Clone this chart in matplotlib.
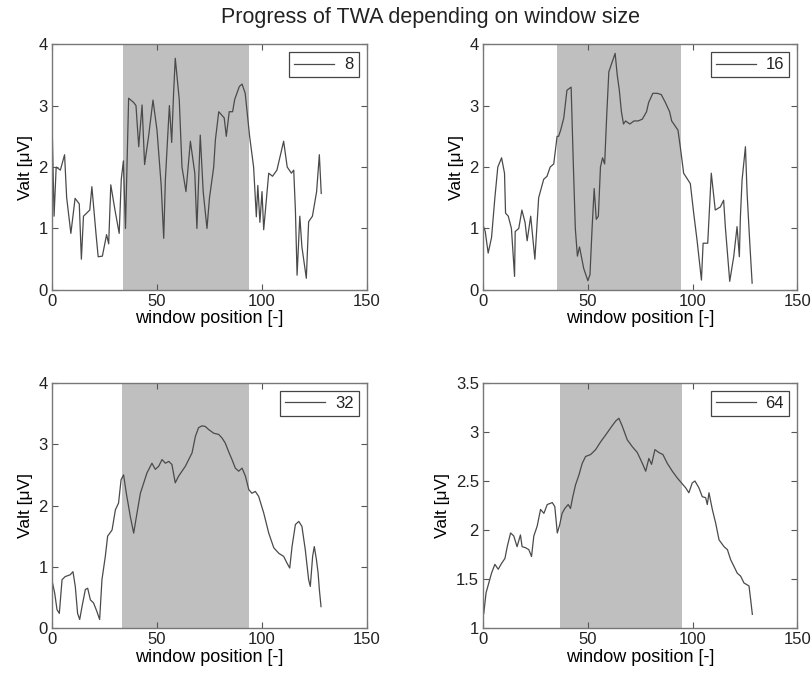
import matplotlib.pyplot as plt

# window size 8
x8 = [0, 1, 2, 4, 6, 7, 9, 11, 13, 14, 15, 18, 19, 21, 22, 24, 26, 27, 28, 30, 32, 33, 34, 35,
      36.5, 38.9, 40, 41.3, 42.9, 44.1, 46, 48.1, 50, 52, 53.2, 54, 55.9, 57, 57.9, 58.7, 60.6,
      61.9, 63.8, 65.9, 68, 69, 70.6, 72, 73.8, 75, 77, 77.8, 79.4, 82, 83, 84.4, 86, 87, 89.2,
      90.5, 92, 94.1, 96, 97.3, 98, 99, 100, 100.8, 103.2, 105, 107.1, 110.3, 112, 114, 115.1,
      115.9, 116.7, 118, 119, 121.1, 122.2, 124, 126, 127.3, 128.2]
y8 = [2.8, 1.2, 2.0, 1.95, 2.2, 1.5, 0.92, 1.49, 1.4, 0.5, 1.2, 1.3, 1.68, 0.9, 0.54, 0.55, 0.9,
      0.75, 1.71, 1.3, 0.92, 1.8, 2.1, 1.0,
      3.12, 3.05, 3.0, 2.33, 3.01, 2.04, 2.5, 3.09, 2.6, 1.7, 0.84, 1.8, 3.0, 2.4, 3.2, 3.77, 3.1,
      2.0, 1.6, 2.42, 1.9, 1.0, 2.52, 1.6, 1.0, 1.5, 2.0, 2.44, 2.9, 2.8, 2.5, 2.9, 2.9, 3.1, 3.31,
      3.35, 3.2, 2.5, 2.0, 1.19, 1.7, 1.1, 1.6, 0.98, 1.9, 1.85, 1.95, 2.42, 2.0, 1.9, 1.95,
      1.3, 0.24, 1.2, 0.7, 0.19, 1.11, 1.2, 1.6, 2.2, 1.57]

# window size 16
x16 = [0, 1, 2.4, 4, 5.6, 7, 8.8, 10.2, 10.7, 12, 13.5, 15, 15.3, 17, 18.5, 20, 21, 22.7, 24.7,
       26.5, 28.9, 30.5, 32, 33.7, 35.3, 36, 37, 38.5, 40, 42, 43,
       44, 45, 46, 48, 50, 51, 52, 53, 54, 55, 56, 57, 58, 59, 60,
       62, 63, 64, 65, 66, 67, 68, 70, 72, 74, 76, 78, 79, 81, 83, 85, 87, 89, 90, 91, 92, 93,
       94.1, 95.7, 98.9, 100.5, 102.1, 104.2, 105, 107.2, 108.9, 110.8, 113.2, 114.8, 115.6,
       117.7, 119.6, 121.2, 122.3, 122.8, 123.6, 125.2, 126, 127.2, 128.4]
y16 = [1.05, 0.95, 0.6, 0.85, 1.5, 2.0, 2.15, 1.9, 1.25, 1.2, 1.0, 0.22, 0.95, 1.0, 1.3, 1.1, 0.8,
       1.2, 0.5, 1.5, 1.8, 1.85, 2.0, 2.05, 2.5, 2.5, 2.6, 2.8, 3.25, 3.3, 2.1,
       1.0, 0.55, 0.7, 0.35, 0.15, 0.25, 1.0, 1.65, 1.15, 1.2, 2.0, 2.15, 2.05, 2.85, 3.55,
       3.75, 3.85, 3.5, 3.25, 2.9, 2.7, 2.75, 2.7, 2.75, 2.75, 2.78, 2.9, 3.05, 3.2, 3.2, 3.18,
       3.05, 2.9, 2.75, 2.7, 2.65, 2.6,
       2.33, 1.9, 1.73, 1.25, 0.81, 0.16, 0.76, 0.76, 1.9, 1.3, 1.35, 1.46, 1.03,
       0.14, 0.54, 1.03, 0.54, 1.19, 1.79, 2.33, 1.57, 0.81, 0.11]

# window size 32
x32 = [0.3, 1.3, 2.4, 3.5, 4.8, 6.3, 8.7, 10, 11.1, 12.2, 13.2, 14.3, 15.9, 17, 18.3, 19.8, 21.4,
       22.7, 23.8, 25.4, 26.5, 28.6, 30.2, 31.7, 32.9, 34.1, 35.4, 37.3, 38.9, 40.5, 42.1, 43.7,
       45.2, 47.6, 49.2, 50.8, 52.4, 54, 55.6, 57.1, 58.7, 60.3, 61.9, 63.5, 65.1, 66.7, 68.3,
       69.8, 71.4, 73, 74.6, 77, 79.4, 81, 82.5, 84.1, 85.7, 87.3, 88.9, 90.5, 92.1, 93.7, 95.2,
       96.8, 98.4, 100.8, 103.2, 105.6, 108, 110.3, 111.9, 113.2, 114.3, 115.9, 117.5, 119,
       120.6, 122.2, 123, 124.1, 124.9, 125.9, 126.7, 127.3, 128.1]
y32 = [0.73, 0.57, 0.3, 0.24, 0.79, 0.84, 0.87, 0.92, 0.68, 0.24, 0.14, 0.35, 0.63, 0.65, 0.46,
       0.41, 0.27, 0.14, 0.79, 1.17, 1.5, 1.6, 1.93, 2.04, 2.42, 2.5, 2.2, 1.82, 1.55, 1.88, 2.2,
       2.37, 2.53, 2.69, 2.59, 2.64, 2.75, 2.69, 2.72, 2.67, 2.37, 2.48, 2.56, 2.64, 2.75, 2.86,
       3.13, 3.27, 3.3, 3.29, 3.24, 3.18, 3.16, 3.1, 3.02, 2.88, 2.75, 2.61, 2.56, 2.61, 2.48,
       2.26, 2.2, 2.23, 2.15, 1.88, 1.55, 1.31, 1.22, 1.17, 1.06, 0.98, 1.33, 1.69, 1.74, 1.66,
       1.28, 0.79, 0.68, 1.17, 1.33, 1.12, 0.9, 0.63, 0.35]

# window size 64
x64 = [0.3, 1.4, 2.7, 4, 5.6, 7.2, 8.8, 10.4, 11.5, 13.1, 14.6, 16.2, 17.8, 18.6, 20.2, 21.8,
       23.1, 24.2, 25.8, 27.4, 29, 30.6, 33, 34.2, 35.4, 36.5, 37.7, 39, 40.6, 41.7, 42.8, 44.1,
       45.7, 47.3, 48.9, 51.3, 53.7, 56.1, 58.5, 60.8, 63.2, 64.8, 66.4, 68.8, 71.2, 73.6, 76,
       77.6, 79.1, 80.4, 82, 83.9, 85.8, 87.9, 90.3, 92.7, 94.7, 96.7, 98.2, 99.8, 101.1, 103,
       104.6, 106.2, 107, 107.8, 109.4, 111, 112.6, 115, 116.6, 118.1, 119.7, 121.3, 122.9,
       124.5, 126.9, 127.7, 128.5]
y64 = [1.15, 1.36, 1.46, 1.56, 1.65, 1.6, 1.66, 1.71, 1.83, 1.97, 1.94, 1.83, 1.95, 1.83, 1.82,
       1.8, 1.73, 1.94, 2.04, 2.21, 2.17, 2.26, 2.28, 2.24, 1.97, 2.05, 2.17, 2.22, 2.26, 2.22,
       2.34, 2.46, 2.56, 2.68, 2.75, 2.77, 2.82, 2.9, 2.97, 3.04, 3.11, 3.14, 3.06, 2.92, 2.85,
       2.79, 2.68, 2.6, 2.73, 2.67, 2.82, 2.79, 2.77, 2.68, 2.6, 2.53, 2.48, 2.43, 2.38, 2.48,
       2.5, 2.43, 2.34, 2.33, 2.26, 2.38, 2.21, 2.07, 1.9, 1.83, 1.8, 1.7, 1.63, 1.56, 1.53,
       1.46, 1.43, 1.29, 1.14]

labels = ['8', '16', '32', '64']
shade_start = [34, 35.4, 33.3, 36.5]
shade_end = [94, 94.3, 93.7, 95]
ylims = [(0, 4), (0, 4), (0, 4), (1, 3.5)]
yticks = [[0, 1, 2, 3, 4], [0, 1, 2, 3, 4], [0, 1, 2, 3, 4], [1, 1.5, 2, 2.5, 3, 3.5]]
xs = [x8, x16, x32, x64]
ys = [y8, y16, y32, y64]

plt.rcParams['font.family'] = ['Liberation Sans', 'DejaVu Sans']
plt.rcParams['text.color'] = '#222222'

fig = plt.figure(figsize=(8.12, 6.79), dpi=100)
pos = [[0.064, 0.573, 0.388, 0.362], [0.595, 0.573, 0.387, 0.362],
       [0.064, 0.075, 0.388, 0.361], [0.595, 0.075, 0.387, 0.361]]

for i in range(4):
    ax = fig.add_axes(pos[i])
    ax.axvspan(shade_start[i], shade_end[i], color='#bfbfbf', lw=0)
    ax.plot(xs[i], ys[i], color='#4a4a4a', lw=0.9, label=labels[i])
    ax.set_xlim(0, 150)
    ax.set_ylim(*ylims[i])
    ax.set_xticks([0, 50, 100, 150])
    ax.set_yticks(yticks[i])
    ax.set_yticklabels([('%g' % v) for v in yticks[i]])
    ax.tick_params(direction='in', top=True, right=True, length=4, labelsize=12,
                   colors='#555555', labelcolor='#222222', pad=3)
    for s in ax.spines.values():
        s.set_color('#777777')
        s.set_linewidth(1.0)
    ax.set_xlabel('window position [-]', fontsize=13, labelpad=1)
    ax.set_ylabel('Valt [\u03bcV]', fontsize=12.5, labelpad=4)
    leg = ax.legend(loc='upper right', fontsize=12, fancybox=False, framealpha=1,
                    edgecolor='#444444', handlelength=2.4, borderaxespad=0.5,
                    borderpad=0.3, handletextpad=0.6)
    leg.get_frame().set_linewidth(0.9)

fig.suptitle('Progress of TWA depending on window size', fontsize=15.5, x=0.53, y=0.99)
fig.savefig('out.png', dpi=100)
